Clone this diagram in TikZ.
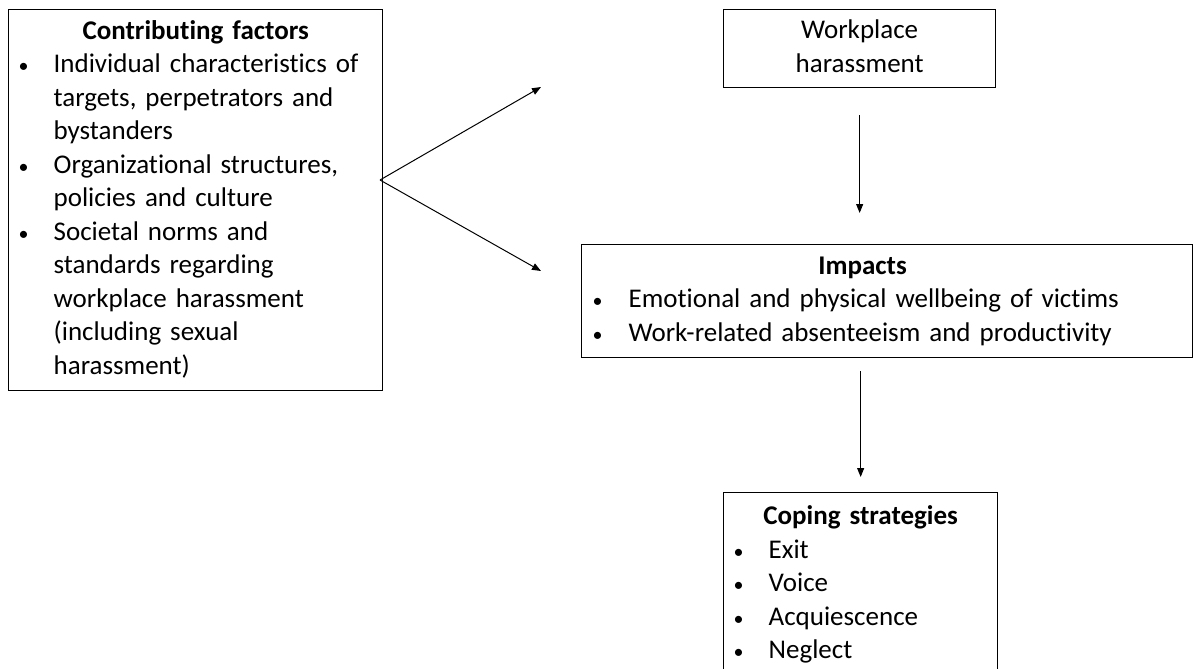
\documentclass[tikz,border=0pt]{standalone}
\usepackage{fontspec}
\setmainfont{Carlito}[Ligatures=NoCommon]
\usepackage{array}
\usetikzlibrary{arrows.meta,positioning}
\newcommand\itemdot{{\fontsize{20}{20}\selectfont•}}
\newcolumntype{L}[1]{>{\raggedright\arraybackslash}p{#1}}

\begin{document}
\begin{tikzpicture}[x=1pt,y=-1pt,>={Stealth[length=9pt,width=7pt,inset=0pt]},
  box/.style={draw,line width=1.3pt,anchor=north west,inner ysep=0pt,align=left,
    font=\fontsize{27}{33.5}\selectfont},
  link/.style={->,line width=1pt}]
\useasboundingbox(0,0) rectangle (1194,669);
\node[box,minimum width=374pt,minimum height=381pt,inner xsep=10pt,text width=354pt](factors) at (8,9){\noindent
\begin{tabular}{@{}p{35pt}@{}L{319pt}@{}}
\multicolumn{2}{c}{\textbf{Contributing factors}}\\
\itemdot & Individual characteristics of\\
  & targets, perpetrators and\\
  & bystanders\\
\itemdot & Organizational structures,\\
  & policies and culture\\
\itemdot & Societal norms and\\
  & standards regarding\\
  & workplace harassment\\
  & (including sexual\\
  & harassment)
\end{tabular}};
\node[box,minimum width=272pt,minimum height=78pt,inner xsep=0pt,text width=272pt,align=center](work) at (723,9){%
\begin{tabular}{@{}c@{}}Workplace\\harassment\end{tabular}};
\node[box,minimum width=611pt,minimum height=113pt,inner xsep=11pt,text width=589pt](impacts) at (581,244){\noindent
\begin{tabular}{@{}p{36pt}@{}L{504pt}@{}}
\multicolumn{2}{c}{\textbf{Impacts}}\\
\itemdot & Emotional and physical wellbeing of victims\\
\itemdot & Work-related absenteeism and productivity
\end{tabular}};
\node[box,minimum width=274pt,minimum height=185pt,inner xsep=10pt,text width=254pt](coping) at (723,492){\noindent
\begin{tabular}{@{}p{35pt}@{}L{219pt}@{}}
\multicolumn{2}{c}{\textbf{Coping strategies}}\\
\itemdot & Exit\\
\itemdot & Voice\\
\itemdot & Acquiescence\\
\itemdot & Neglect
\end{tabular}};
\coordinate(fork) at (380,180);
\coordinate(upper) at (541,87);
\coordinate(lower) at (541,271);
\draw[link](fork)--(upper);
\draw[link](fork)--(lower);
\draw[link,shorten <=27pt,shorten >=31pt](work.south)--(work.south|-impacts.north);
\draw[link,shorten <=13pt,shorten >=15pt](coping.north|-impacts.south)--(coping.north);
\end{tikzpicture}
\end{document}
